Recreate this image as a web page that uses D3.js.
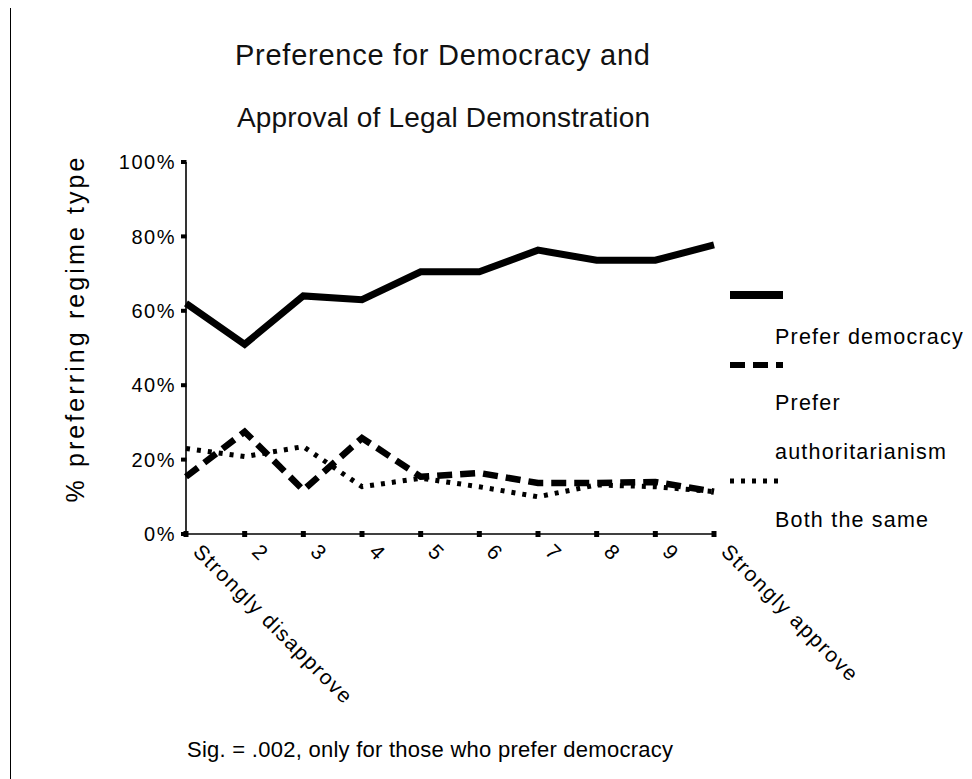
<!DOCTYPE html>
<html><head><meta charset="utf-8">
<script src="https://cdn.jsdelivr.net/npm/d3@7"></script>
<style>
html,body{margin:0;padding:0;background:#fff;}
svg{display:block;font-family:"Liberation Sans",Arial,sans-serif;}
</style></head>
<body>
<svg id="chart" width="972" height="779"></svg>
<script>
// ---- data ----
const categories = ["Strongly disapprove","2","3","4","5","6","7","8","9","Strongly approve"];
const preferDemocracy = [62, 51, 64, 63, 70.5, 70.5, 76.3, 73.6, 73.6, 77.7];
const preferAuthoritarianism = [15.4, 27.5, 11.8, 25.8, 15.4, 16.4, 13.7, 13.7, 14, 11.4];
const bothTheSame = [23, 20.8, 23.5, 12.7, 15, 12.7, 10, 13.2, 12.7, 11.4];
const yTicks = [0, 20, 40, 60, 80, 100];
const seriesNames = ["Prefer democracy", ["Prefer", "authoritarianism"], "Both the same"];
const titleLines = ["Preference for Democracy and", "Approval of Legal Demonstration"];
const yTitle = "% preferring regime type";
const footnote = "Sig. = .002, only for those who prefer democracy";

const svg = d3.select("#chart");
const x = d3.scalePoint().domain(categories).range([186, 714]);
const y = d3.scaleLinear().domain([0, 100]).range([534, 162]);

// left border line
svg.append("line").attr("x1",10.5).attr("x2",10.5).attr("y1",8).attr("y2",779)
  .attr("stroke","#000").attr("stroke-width",1);

// titles
svg.append("text").attr("x",442.5).attr("y",65).attr("text-anchor","middle").attr("fill","#111")
  .attr("font-size",29).attr("textLength",415).attr("lengthAdjust","spacing").text(titleLines[0]);
svg.append("text").attr("x",443.5).attr("y",127).attr("text-anchor","middle").attr("fill","#111")
  .attr("font-size",28).attr("textLength",413).attr("lengthAdjust","spacing").text(titleLines[1]);

// axes lines
svg.append("line").attr("x1",186).attr("x2",186).attr("y1",y(100)).attr("y2",y(0))
  .attr("stroke","#000").attr("stroke-width",1.6);
svg.append("line").attr("x1",186).attr("x2",714).attr("y1",y(0)).attr("y2",y(0))
  .attr("stroke","#000").attr("stroke-width",1.6);

// y ticks
const yt = svg.append("g");
yTicks.forEach(t => {
  yt.append("line").attr("x1",181).attr("x2",186.5).attr("y1",y(t)).attr("y2",y(t))
    .attr("stroke","#000").attr("stroke-width",4);
  yt.append("text").attr("x",176).attr("y",y(t)).attr("dy","0.36em")
    .attr("text-anchor","end").attr("font-size",20).attr("letter-spacing",1.5)
    .text(t + "%");
});

// x ticks
const xt = svg.append("g");
categories.forEach(c => {
  xt.append("line").attr("x1",x(c)).attr("x2",x(c)).attr("y1",y(0)-3).attr("y2",y(0)+3)
    .attr("stroke","#000").attr("stroke-width",5);
  const px = x(c) + 6, py = y(0) + 19;
  xt.append("text").attr("transform",`translate(${px},${py}) rotate(45)`)
    .attr("font-size",21).attr("letter-spacing",1.6).text(c);
});

// y title
svg.append("text").attr("transform","translate(84,330) rotate(-90)")
  .attr("text-anchor","middle").attr("font-size",25)
  .attr("textLength",345).attr("lengthAdjust","spacing").text(yTitle);

// lines
const styles = [
  {data: preferDemocracy, w: 7, dash: null},
  {data: preferAuthoritarianism, w: 6.5, dash: "15,8"},
  {data: bothTheSame, w: 5, dash: "4,7"}
];
const lineGen = d3.line().x((d,i) => x(categories[i])).y(d => y(d));
styles.forEach(s => {
  svg.append("path").attr("d", lineGen(s.data)).attr("fill","none")
    .attr("stroke","#000").attr("stroke-width",s.w)
    .attr("stroke-dasharray", s.dash).attr("stroke-linejoin","miter");
});

// legend
const legY = [295, 365, 481];
styles.forEach((s,i) => {
  svg.append("line").attr("x1",730).attr("x2",783).attr("y1",legY[i]).attr("y2",legY[i])
    .attr("stroke","#000").attr("stroke-width", i===0 ? 8 : (i===1 ? 6 : 5))
    .attr("stroke-dasharray", s.dash);
});
const legText = svg.append("g").attr("font-size",21.5).attr("letter-spacing",1.2);
legText.append("text").attr("x",775).attr("y",344).text(seriesNames[0]);
legText.append("text").attr("x",775).attr("y",410).text(seriesNames[1][0]);
legText.append("text").attr("x",775).attr("y",459).text(seriesNames[1][1]);
legText.append("text").attr("x",775).attr("y",527).text(seriesNames[2]);

// footnote
svg.append("text").attr("x",187).attr("y",757).attr("font-size",22)
  .attr("textLength",486).attr("lengthAdjust","spacing").text(footnote);
</script>
</body></html>
